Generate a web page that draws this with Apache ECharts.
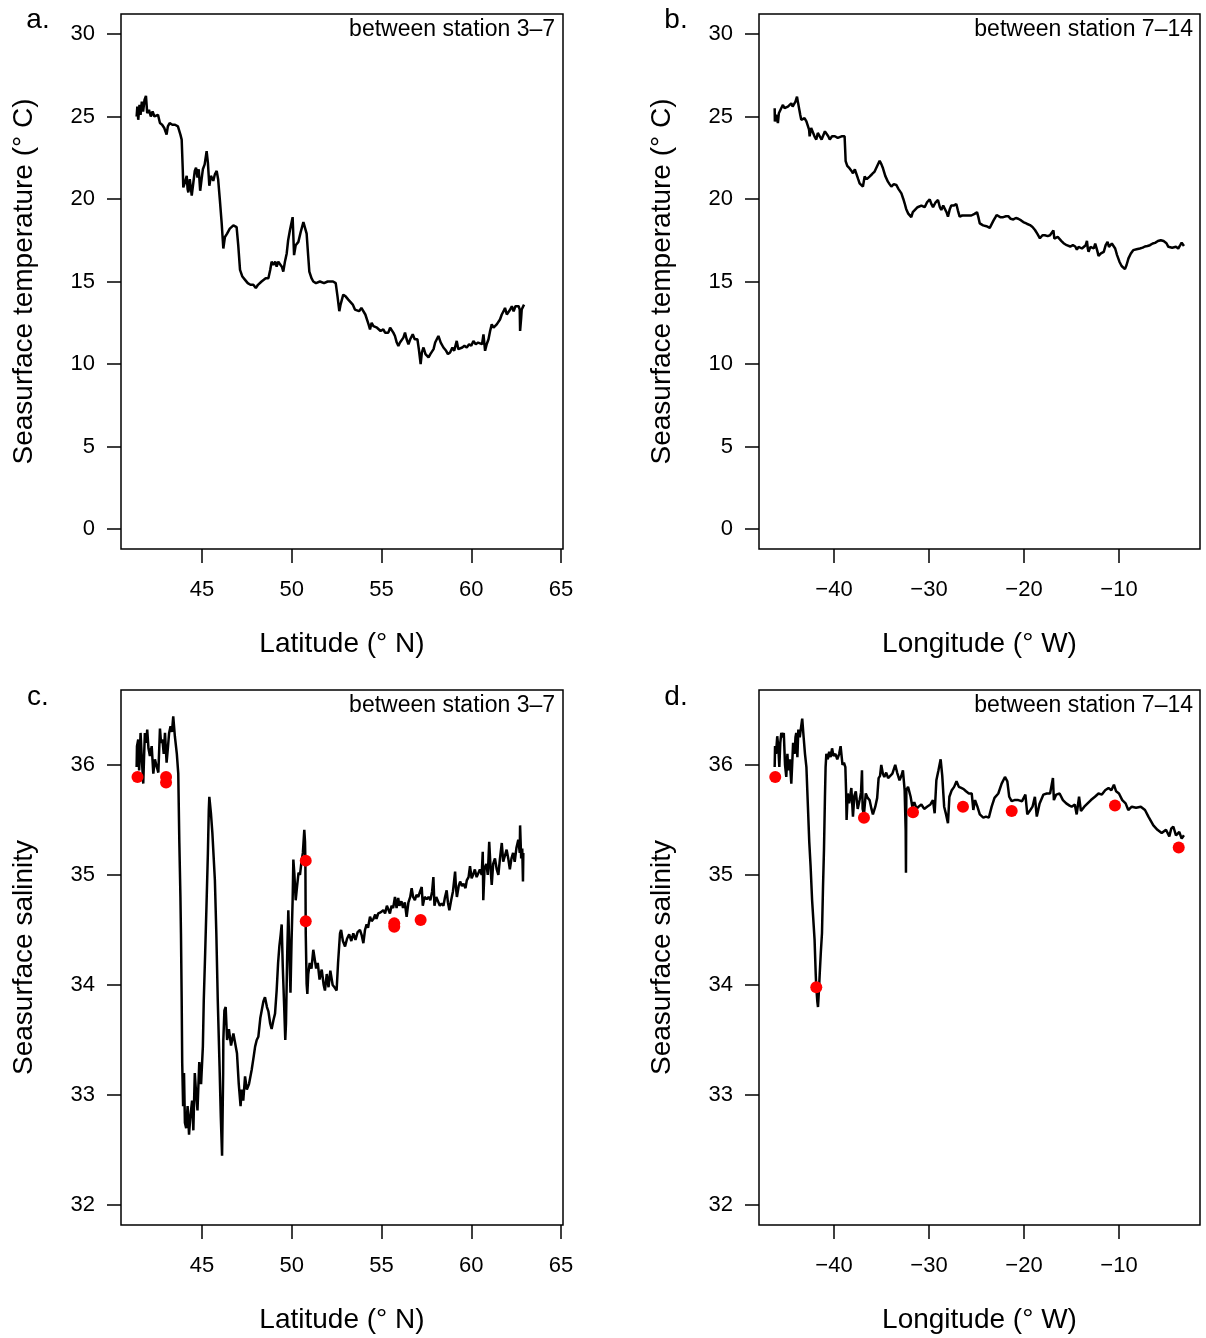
<!DOCTYPE html>
<html>
<head>
<meta charset="utf-8">
<script src="https://cdn.jsdelivr.net/npm/echarts@6/dist/echarts.min.js"></script>
<style>html,body{margin:0;padding:0;background:#fff}#c{width:1206px;height:1338px}</style>
</head>
<body>
<div id="c"></div>
<script>
// ---- Panel a: temperature vs latitude (station 3-7)
const latA = [41.36,41.40,41.45,41.52,41.58,41.65,41.72,41.80,41.88,41.95,42.05,42.15,42.25,42.35,42.45,42.55,42.66,42.78,42.90,43.03,43.10,43.20,43.35,43.50,43.66,43.80,43.87,43.93,43.96,44.05,44.15,44.20,44.24,44.32,44.43,44.52,44.60,44.67,44.75,44.82,44.90,44.98,45.05,45.15,45.26,45.33,45.41,45.50,45.63,45.72,45.82,45.90,46.00,46.10,46.19,46.28,46.40,46.55,46.75,46.93,47.02,47.12,47.25,47.40,47.55,47.70,47.86,48.00,48.12,48.23,48.32,48.42,48.55,48.70,48.80,48.88,48.98,49.08,49.16,49.25,49.35,49.45,49.53,49.62,49.72,49.80,49.90,50.05,50.13,50.22,50.30,50.37,50.50,50.65,50.74,50.83,50.92,50.98,51.10,51.20,51.35,51.57,51.80,52.00,52.13,52.30,52.45,52.55,52.65,52.72,52.87,53.00,53.15,53.25,53.40,53.52,53.62,53.75,53.88,53.99,54.10,54.18,54.28,54.36,54.45,54.55,54.65,54.75,54.82,54.95,55.10,55.20,55.38,55.48,55.57,55.66,55.75,55.85,55.94,56.03,56.12,56.22,56.31,56.40,56.50,56.60,56.74,56.85,57.00,57.08,57.18,57.25,57.34,57.45,57.55,57.62,57.72,57.80,57.90,57.99,58.08,58.17,58.30,58.45,58.60,58.70,58.82,58.95,59.05,59.19,59.28,59.38,59.50,59.62,59.75,59.88,60.00,60.12,60.25,60.38,60.49,60.60,60.68,60.77,60.86,60.96,61.05,61.14,61.24,61.33,61.42,61.51,61.60,61.70,61.80,61.88,61.98,62.07,62.17,62.26,62.36,62.46,62.54,62.64,62.70,62.72,62.78,62.81,62.94];
const tempA = [25.0,25.6,24.8,25.7,25.1,25.9,25.3,26.0,26.25,25.2,25.4,25.0,25.3,25.0,24.9,25.1,24.6,24.5,24.3,23.9,24.4,24.6,24.5,24.5,24.4,23.9,23.6,21.8,20.7,21.0,21.4,20.6,20.4,21.2,20.2,21.0,21.7,21.9,21.3,21.8,20.5,21.2,21.8,22.1,22.9,22.2,20.8,21.4,21.1,21.5,21.7,21.2,19.9,18.5,17.0,17.7,17.9,18.2,18.4,18.3,17.2,15.7,15.3,15.1,14.9,14.8,14.8,14.6,14.8,14.7,15.0,15.1,15.2,15.2,15.7,16.2,16.0,16.2,15.9,16.2,16.1,15.9,15.6,16.2,16.7,17.5,18.1,18.9,16.6,17.2,17.1,17.4,18.0,18.6,18.5,17.9,16.5,15.6,15.2,15.0,14.9,15.0,14.9,15.0,15.0,15.0,14.9,14.1,13.2,13.6,14.2,14.1,13.9,13.9,13.6,13.3,13.4,13.2,13.4,13.4,13.0,12.9,12.4,12.1,12.5,12.3,12.4,12.2,12.3,12.0,12.1,11.9,11.9,12.2,12.1,11.9,11.7,11.3,11.1,11.3,11.2,11.6,11.9,11.5,11.2,11.5,11.8,11.5,11.5,10.9,10.0,10.7,11.0,10.6,10.5,10.4,10.6,10.5,10.9,11.3,11.2,11.7,11.3,11.0,10.8,10.6,10.7,11.0,10.8,11.4,10.9,10.9,11.0,11.1,11.0,11.2,11.1,11.4,11.2,11.3,11.3,11.2,11.8,10.8,11.2,11.5,12.0,12.4,12.2,12.2,12.4,12.5,12.7,13.0,13.2,13.4,13.0,13.0,13.3,13.5,13.2,13.5,13.4,13.5,13.3,12.0,12.8,13.3,13.6];

// ---- Panel b: temperature vs longitude (station 7-14)
const lonB = [-46.24,-46.22,-46.10,-45.90,-45.80,-45.70,-45.55,-45.37,-45.20,-45.00,-44.85,-44.70,-44.49,-44.35,-44.20,-44.05,-43.89,-43.80,-43.70,-43.55,-43.44,-43.30,-43.10,-42.90,-42.74,-42.62,-42.56,-42.40,-42.20,-42.05,-41.86,-41.70,-41.50,-41.30,-41.14,-40.95,-40.79,-40.60,-40.44,-40.20,-39.90,-39.60,-39.20,-38.88,-38.82,-38.77,-38.60,-38.35,-38.15,-38.00,-37.80,-37.65,-37.45,-37.30,-37.10,-36.95,-36.77,-36.55,-36.25,-36.00,-35.72,-35.45,-35.19,-35.00,-34.84,-34.60,-34.32,-34.15,-33.96,-33.70,-33.44,-33.20,-32.90,-32.70,-32.56,-32.40,-32.20,-31.86,-31.70,-31.50,-31.20,-30.80,-30.45,-30.20,-29.92,-29.75,-29.57,-29.30,-29.05,-28.85,-28.70,-28.50,-28.35,-28.15,-28.00,-27.80,-27.65,-27.40,-27.12,-26.95,-26.77,-26.50,-26.24,-25.90,-25.54,-25.20,-24.94,-24.80,-24.65,-24.30,-23.95,-23.60,-23.40,-23.20,-23.00,-22.88,-22.50,-22.18,-21.90,-21.65,-21.40,-21.12,-20.85,-20.60,-20.30,-20.07,-19.70,-19.37,-19.10,-18.84,-18.60,-18.32,-18.05,-17.80,-17.50,-17.26,-17.05,-16.90,-16.80,-16.70,-16.45,-16.25,-16.05,-15.83,-15.50,-15.13,-14.85,-14.60,-14.43,-14.25,-14.08,-13.90,-13.70,-13.50,-13.37,-13.28,-13.20,-13.00,-12.84,-12.65,-12.50,-12.30,-12.15,-11.90,-11.60,-11.40,-11.20,-11.05,-10.90,-10.75,-10.60,-10.40,-10.20,-9.95,-9.72,-9.55,-9.37,-9.20,-9.00,-8.75,-8.50,-8.15,-7.80,-7.50,-7.27,-7.00,-6.74,-6.45,-6.20,-5.90,-5.60,-5.30,-5.00,-4.80,-4.63,-4.40,-4.20,-4.00,-3.76,-3.55,-3.40,-3.16];
const tempB = [25.5,24.7,25.1,24.6,25.2,25.3,25.5,25.7,25.5,25.4,25.6,25.5,25.8,25.6,25.5,25.9,26.2,25.9,25.8,25.1,24.8,24.9,24.9,24.7,24.6,24.2,23.8,24.3,24.2,23.8,23.6,24.0,23.9,23.6,23.7,24.1,24.2,23.8,23.6,23.8,23.8,23.7,23.8,23.8,23.0,22.3,22.0,21.85,21.7,21.56,21.8,21.76,21.2,20.95,21.0,20.75,21.36,21.2,21.36,21.5,21.66,22.0,22.32,22.1,21.86,21.4,21.05,20.9,20.75,20.9,20.85,20.6,20.34,20.0,19.74,19.4,19.13,18.9,19.2,19.3,19.5,19.6,19.5,19.8,19.98,19.7,19.5,19.8,19.94,19.5,19.33,19.6,19.6,19.2,18.93,19.4,19.6,19.6,19.7,19.3,18.93,19.0,19.0,19.0,19.0,19.1,19.2,18.9,18.52,18.4,18.35,18.25,18.2,18.7,18.9,19.03,18.9,18.9,18.95,18.96,18.8,18.76,18.85,18.8,18.7,18.6,18.5,18.42,18.3,18.12,17.9,17.62,17.8,17.8,17.75,17.8,17.7,18.1,17.6,17.52,17.7,17.6,17.45,17.32,17.2,17.12,17.2,17.12,16.93,17.1,17.2,17.0,16.93,17.2,17.46,17.0,16.8,17.1,17.2,17.0,17.3,16.9,16.55,16.7,16.8,17.2,17.4,17.1,17.0,17.3,17.34,17.0,16.6,16.2,15.94,15.9,15.75,16.0,16.4,16.7,16.9,16.95,17.0,17.05,17.12,17.15,17.2,17.3,17.34,17.45,17.5,17.45,17.32,17.1,17.0,17.05,16.93,17.1,17.0,17.2,17.35,17.15];

// ---- Panel c: salinity vs latitude (station 3-7)
const latC = [41.36,41.38,41.45,41.50,41.58,41.65,41.73,41.78,41.82,41.90,41.95,42.02,42.10,42.20,42.29,42.38,42.47,42.57,42.62,42.66,42.72,42.80,42.87,42.94,43.03,43.10,43.17,43.25,43.33,43.40,43.49,43.60,43.68,43.74,43.80,43.83,43.87,43.90,43.95,44.00,44.05,44.12,44.20,44.28,44.35,44.45,44.52,44.60,44.68,44.75,44.85,44.95,45.05,45.10,45.18,45.25,45.33,45.38,45.41,45.50,45.58,45.72,45.80,45.88,45.98,46.05,46.12,46.18,46.19,46.25,46.32,46.40,46.50,46.62,46.75,46.85,46.95,47.05,47.15,47.21,47.30,47.40,47.50,47.62,47.77,47.88,47.96,48.05,48.14,48.25,48.33,48.42,48.51,48.62,48.70,48.80,48.88,48.98,49.07,49.16,49.24,49.31,49.38,49.44,49.50,49.58,49.64,49.68,49.75,49.81,49.87,49.93,49.99,50.05,50.09,50.15,50.22,50.30,50.38,50.46,50.55,50.62,50.70,50.74,50.76,50.78,50.83,50.87,50.92,51.00,51.10,51.20,51.28,51.36,51.45,51.55,51.67,51.78,51.85,51.95,52.05,52.15,52.28,52.38,52.50,52.58,52.69,52.75,52.85,52.97,53.08,53.20,53.32,53.43,53.55,53.67,53.80,53.90,53.99,54.08,54.17,54.25,54.36,54.45,54.55,54.65,54.72,54.82,54.95,55.10,55.20,55.30,55.38,55.47,55.56,55.65,55.75,55.84,55.93,56.00,56.11,56.20,56.30,56.40,56.50,56.60,56.68,56.76,56.86,56.95,57.05,57.15,57.24,57.30,57.40,57.52,57.62,57.72,57.82,57.89,57.95,58.05,58.15,58.25,58.35,58.45,58.54,58.63,58.70,58.78,58.88,58.98,59.10,59.15,59.20,59.30,59.38,59.48,59.57,59.68,59.75,59.85,59.93,60.02,60.10,60.20,60.30,60.38,60.48,60.58,60.64,60.67,60.74,60.84,60.92,61.00,61.08,61.14,61.22,61.32,61.42,61.51,61.60,61.70,61.78,61.88,61.97,62.06,62.15,62.24,62.33,62.42,62.52,62.62,62.70,62.72,62.78,62.84,62.88,62.90];
const salC = [35.98,36.17,36.23,35.95,36.29,36.05,35.83,36.10,36.29,36.20,36.32,36.15,36.08,36.17,35.92,36.05,35.99,35.93,36.15,36.33,36.20,36.23,36.10,36.29,36.02,36.15,36.29,36.35,36.30,36.44,36.26,36.10,35.92,35.29,34.80,34.47,33.86,33.29,32.90,33.20,32.75,32.70,32.90,32.64,32.80,32.95,32.68,33.20,33.00,32.86,33.30,33.10,33.44,33.86,34.30,34.71,35.20,35.59,35.71,35.56,35.38,34.95,34.47,33.86,33.26,32.80,32.45,33.20,33.50,33.77,33.80,33.50,33.60,33.45,33.56,33.55,33.38,33.10,32.90,33.05,32.95,33.17,33.05,33.10,33.23,33.35,33.44,33.50,33.53,33.70,33.77,33.85,33.89,33.80,33.76,33.65,33.60,33.68,33.74,33.95,34.20,34.35,34.45,34.55,34.17,33.80,33.50,33.65,34.30,34.68,34.30,33.93,34.40,34.77,35.14,35.00,34.77,34.90,35.02,35.00,35.13,35.20,35.41,35.30,35.13,34.47,34.01,33.92,34.10,34.20,34.15,34.32,34.33,34.15,34.20,34.05,34.14,34.00,33.95,34.10,33.98,34.13,34.00,33.98,33.95,34.20,34.47,34.50,34.40,34.35,34.42,34.46,34.40,34.47,34.41,34.48,34.50,34.45,34.38,34.50,34.55,34.52,34.62,34.58,34.60,34.64,34.60,34.65,34.66,34.68,34.65,34.72,34.73,34.65,34.72,34.70,34.80,34.70,34.79,34.72,34.76,34.70,34.75,34.62,34.75,34.80,34.88,34.80,34.77,34.82,34.80,34.85,34.89,34.72,34.80,34.78,34.80,34.77,34.85,34.98,34.72,34.80,34.79,34.72,34.74,34.72,34.80,34.86,34.75,34.68,34.77,34.85,35.03,34.88,34.80,34.90,34.94,34.90,34.92,34.88,34.95,34.98,35.08,34.97,35.00,35.05,34.98,34.97,35.05,35.00,35.21,34.77,35.06,35.10,35.00,35.30,35.05,34.91,35.10,35.15,35.05,35.00,35.15,35.29,35.12,35.12,35.23,35.15,35.05,35.15,35.20,35.12,35.25,35.32,35.20,35.45,35.15,35.24,34.94,35.20];
const dotLatC = [41.41,43.00,43.00,50.78,50.78,55.71,55.71,57.18];
const dotSalC = [35.89,35.89,35.84,35.13,34.58,34.56,34.53,34.59];

// ---- Panel d: salinity vs longitude (station 7-14)
const lonD = [-46.24,-46.20,-46.10,-45.97,-45.85,-45.75,-45.65,-45.54,-45.40,-45.28,-45.15,-45.02,-44.90,-44.80,-44.65,-44.49,-44.40,-44.30,-44.15,-44.05,-43.97,-43.85,-43.75,-43.60,-43.45,-43.34,-43.20,-43.05,-42.90,-42.74,-42.60,-42.46,-42.30,-42.04,-41.92,-41.86,-41.75,-41.68,-41.58,-41.50,-41.38,-41.26,-41.15,-41.05,-40.95,-40.88,-40.80,-40.65,-40.50,-40.35,-40.20,-40.05,-39.85,-39.65,-39.45,-39.30,-39.10,-38.95,-38.80,-38.72,-38.67,-38.55,-38.40,-38.17,-38.00,-37.85,-37.70,-37.50,-37.30,-37.15,-37.05,-36.98,-36.84,-36.65,-36.45,-36.25,-36.05,-35.90,-35.65,-35.45,-35.30,-35.15,-35.02,-34.85,-34.70,-34.50,-34.30,-34.10,-33.85,-33.55,-33.35,-33.10,-32.90,-32.74,-32.56,-32.45,-32.42,-32.38,-32.20,-31.93,-31.75,-31.55,-31.30,-31.10,-30.80,-30.50,-30.20,-29.85,-29.58,-29.40,-29.22,-29.00,-28.77,-28.60,-28.40,-28.20,-28.00,-27.85,-27.60,-27.35,-27.10,-26.85,-26.60,-26.35,-26.10,-25.80,-25.50,-25.33,-25.15,-24.90,-24.65,-24.28,-24.00,-23.70,-23.40,-23.10,-22.70,-22.35,-22.00,-21.75,-21.55,-21.30,-21.00,-20.60,-20.20,-19.85,-19.65,-19.40,-19.10,-18.85,-18.65,-18.35,-17.95,-17.60,-17.25,-16.95,-16.85,-16.60,-16.25,-15.90,-15.55,-15.20,-14.98,-14.65,-14.45,-14.20,-14.00,-13.65,-13.30,-12.95,-12.53,-12.15,-11.80,-11.45,-11.10,-10.80,-10.53,-10.30,-10.00,-9.65,-9.30,-9.02,-8.65,-8.20,-7.70,-7.26,-6.90,-6.38,-5.95,-5.50,-5.05,-4.70,-4.50,-4.28,-4.00,-3.65,-3.40,-3.16];
const salD = [35.98,36.17,36.10,36.26,36.15,35.98,36.20,36.29,36.25,36.29,36.00,35.89,36.10,35.95,36.05,35.83,36.00,36.20,36.10,36.25,36.29,36.07,36.32,36.25,36.35,36.42,36.26,36.10,35.98,35.62,35.30,35.08,34.77,34.41,34.10,33.98,33.85,33.80,33.95,34.10,34.30,34.47,34.90,35.23,35.70,35.98,36.10,36.05,36.12,36.07,36.15,36.08,36.10,36.05,36.10,36.17,36.00,36.02,35.98,35.75,35.50,35.74,35.65,35.79,35.53,35.72,35.76,35.60,35.68,35.75,35.95,35.60,35.55,35.74,35.70,35.68,35.60,35.55,35.62,35.70,35.88,35.90,36.00,35.92,35.89,35.93,35.88,35.89,35.92,36.00,35.93,35.86,35.90,35.95,35.77,35.40,35.02,35.77,35.80,35.71,35.62,35.66,35.60,35.62,35.64,35.60,35.62,35.64,35.68,35.56,35.86,35.95,36.05,35.90,35.62,35.55,35.47,35.71,35.77,35.80,35.85,35.80,35.79,35.78,35.76,35.74,35.74,35.59,35.68,35.62,35.55,35.52,35.53,35.52,35.62,35.70,35.74,35.83,35.89,35.85,35.71,35.67,35.68,35.68,35.67,35.73,35.55,35.58,35.62,35.71,35.53,35.65,35.73,35.74,35.74,35.88,35.68,35.73,35.74,35.68,35.65,35.63,35.62,35.64,35.55,35.71,35.58,35.62,35.65,35.68,35.71,35.74,35.73,35.77,35.79,35.77,35.82,35.76,35.74,35.68,35.65,35.59,35.62,35.61,35.62,35.59,35.53,35.45,35.41,35.38,35.41,35.35,35.42,35.44,35.36,35.39,35.33,35.36];
const dotLonD = [-46.18,-41.86,-36.84,-31.68,-26.42,-21.29,-10.42,-3.71];
const dotSalD = [35.89,33.98,35.52,35.57,35.62,35.58,35.63,35.25];

// ---- tick labels
const ticksLat = [45,50,55,60,65];
const ticksLon = [-40,-30,-20,-10];
const ticksTemp = [0,5,10,15,20,25,30];
const ticksSal = [32,33,34,35,36];

const panelLetters = ['a.','b.','c.','d.'];
const stationLabels = ['between station 3\u20137','between station 7\u201314','between station 3\u20137','between station 7\u201314'];
const xNames = ['Latitude (\u00b0 N)','Longitude (\u00b0 W)','Latitude (\u00b0 N)','Longitude (\u00b0 W)'];
const yNames = ['Seasurface temperature (\u00b0 C)','Seasurface temperature (\u00b0 C)','Seasurface salinity','Seasurface salinity'];

const FONT = "'Liberation Sans', Arial, Helvetica, sans-serif";
const zip = (a,b) => a.map((v,i)=>[v,b[i]]);

const grids = [
  {left:121, top:14, width:442, height:535},
  {left:759, top:14, width:441, height:535},
  {left:121, top:690, width:442, height:535},
  {left:759, top:690, width:441, height:535}
].map(g => Object.assign(g, {show:true, borderColor:'#000', borderWidth:1.5, backgroundColor:'transparent', containLabel:false}));

const xRanges = [[40.49,65.11],[-47.89,-1.47],[40.49,65.11],[-47.89,-1.47]];
const yRanges = [[-1.21,31.21],[-1.21,31.21],[31.82,36.68],[31.82,36.68]];
const xTicks = [ticksLat,ticksLon,ticksLat,ticksLon];
const yTicks = [ticksTemp,ticksTemp,ticksSal,ticksSal];

const fmt = v => String(v).replace('-', '\u2212');

const xAxes = xTicks.map((t,i)=>({
  type:'value', gridIndex:i, min:xRanges[i][0], max:xRanges[i][1], position:'bottom',
  name:xNames[i], nameLocation:'middle', nameGap:81,
  nameTextStyle:{fontFamily:FONT, fontSize:28, color:'#000'},
  axisLine:{show:false, onZero:false}, splitLine:{show:false},
  axisTick:{show:true, length:14, customValues:t, lineStyle:{color:'#000', width:1.5}},
  axisLabel:{customValues:t, formatter:fmt, margin:30, fontFamily:FONT, fontSize:22, color:'#000'}
}));
const yAxes = yTicks.map((t,i)=>({
  type:'value', gridIndex:i, min:yRanges[i][0], max:yRanges[i][1], position:'left',
  name:yNames[i], nameLocation:'middle', nameGap:83,
  nameTextStyle:{fontFamily:FONT, fontSize:28, color:'#000'},
  axisLine:{show:false, onZero:false}, splitLine:{show:false},
  axisTick:{show:true, length:14, customValues:t, lineStyle:{color:'#000', width:1.5}},
  axisLabel:{customValues:t, formatter:fmt, margin:26, fontFamily:FONT, fontSize:22, color:'#000'}
}));

const lineData = [zip(latA,tempA), zip(lonB,tempB), zip(latC,salC), zip(lonD,salD)];
const series = lineData.map((d,i)=>({
  type:'line', xAxisIndex:i, yAxisIndex:i, data:d, showSymbol:false, symbol:'none',
  lineStyle:{color:'#000', width:2.5}, silent:true
}));
series.push({type:'scatter', xAxisIndex:2, yAxisIndex:2, data:zip(dotLatC,dotSalC), symbolSize:12, itemStyle:{color:'#ff0000', opacity:1}, z:5});
series.push({type:'scatter', xAxisIndex:3, yAxisIndex:3, data:zip(dotLonD,dotSalD), symbolSize:12, itemStyle:{color:'#ff0000', opacity:1}, z:5});

const letterPos = [[38,20],[676,20],[38,697],[676,697]];
const stationPos = [[555,30],[1193,30],[555,706],[1193,706]];
const graphics = [];
panelLetters.forEach((t,i)=>graphics.push({type:'text', x:letterPos[i][0], y:letterPos[i][1],
  style:{text:t, font:'28px '+FONT, fill:'#000', textAlign:'center', textVerticalAlign:'middle'}}));
stationLabels.forEach((t,i)=>graphics.push({type:'text', x:stationPos[i][0], y:stationPos[i][1],
  style:{text:t, font:'23px '+FONT, fill:'#000', textAlign:'right', textVerticalAlign:'middle'}}));

const chart = echarts.init(document.getElementById('c'), null, {renderer:'canvas'});
chart.setOption({
  animation:false, backgroundColor:'#fff',
  grid:grids, xAxis:xAxes, yAxis:yAxes, series:series, graphic:graphics
});
</script>
</body>
</html>
